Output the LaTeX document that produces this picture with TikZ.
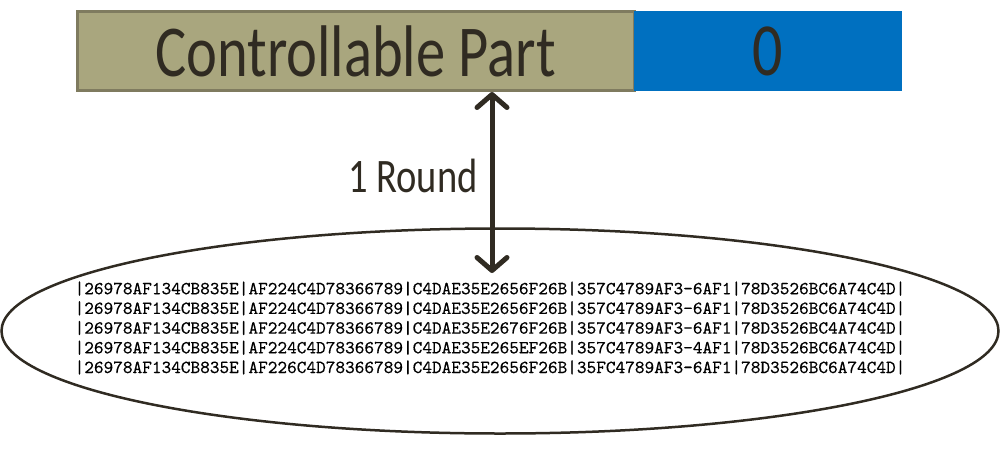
\documentclass[tikz,border=0pt]{standalone}
\usepackage{fontspec}
\setmainfont{Carlito}
\newfontfamily\hexfont{lmmono10-regular}[Extension=.otf, FakeBold=0.4]
\usetikzlibrary{arrows.meta,shapes.geometric}
\definecolor{barolive}{HTML}{A9A67E}
\definecolor{baredge}{HTML}{7F7B5F}
\definecolor{barblue}{HTML}{0070C0}
\definecolor{ink}{HTML}{302B22}
\tikzset{
  partbox/.style={rectangle, inner sep=0pt, fill=barolive, draw=baredge, line width=3pt,
    minimum width=557pt, minimum height=79pt, text=ink, font=\fontsize{58.5}{60}\selectfont},
  zerobox/.style={rectangle, inner sep=0pt, fill=barblue,
    minimum width=268pt, minimum height=80pt, text=ink, font=\fontsize{60}{62}\selectfont},
  roundlabel/.style={inner sep=0pt, text=ink, font=\fontsize{38.5}{40}\selectfont},
  poolshape/.style={ellipse, draw=ink, line width=2.5pt, inner sep=0pt,
    minimum width=997pt, minimum height=205pt},
  hextext/.style={inner sep=0pt, text=black, font=\hexfont\fontsize{18.4}{19.7}\selectfont},
  roundarrow/.style={draw=ink, line width=5pt,
    {Straight Barb[length=13pt,width=30pt,round]}-{Straight Barb[length=13pt,width=30pt,round]}}
}
\newcommand{\stretchy}[1]{\scalebox{1}[1.25]{#1}}
\begin{document}
\begin{tikzpicture}[x=1pt,y=-1pt]
\useasboundingbox (0,0) rectangle (1001,450);
\node[poolshape] (pool) at (500,331) {};
\node[partbox] (ctrl) at (355.5,51) {\stretchy{Controllable Part}};
\node[zerobox] (zero) at (768,51) {\stretchy{0}};
\node[hextext] (hexes) at (490,328) {\vbox{\baselineskip=19.7pt\lineskiplimit=-100pt
\hbox{|26978AF134CB835E|AF224C4D78366789|C4DAE35E2656F26B|357C4789AF3-6AF1|78D3526BC6A74C4D|}
\hbox{|26978AF134CB835E|AF224C4D78366789|C4DAE35E2656F26B|357C4789AF3-6AF1|78D3526BC6A74C4D|}
\hbox{|26978AF134CB835E|AF224C4D78366789|C4DAE35E2676F26B|357C4789AF3-6AF1|78D3526BC4A74C4D|}
\hbox{|26978AF134CB835E|AF224C4D78366789|C4DAE35E265EF26B|357C4789AF3-4AF1|78D3526BC6A74C4D|}
\hbox{|26978AF134CB835E|AF226C4D78366789|C4DAE35E2656F26B|35FC4789AF3-6AF1|78D3526BC6A74C4D|}}};
\coordinate (armtop) at (492,92);
\coordinate (armbot) at (492,273);
\draw[roundarrow] (ctrl.south -| armtop) -- (armbot);
\node[roundlabel] (lbl) at (413,176) {\stretchy{1 Round}};
\end{tikzpicture}
\end{document}
